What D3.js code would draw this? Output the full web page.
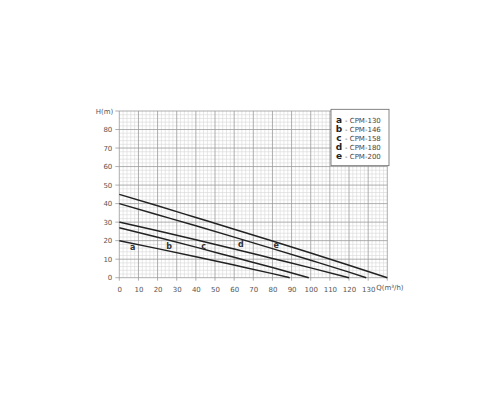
<!DOCTYPE html>
<html>
<head>
<meta charset="utf-8">
<script src="https://d3js.org/d3.v7.min.js"></script>
<style>
  body { margin: 0; background: #fff; }
  text { font-family: "DejaVu Sans", Verdana, sans-serif; }
</style>
</head>
<body>
<div id="chart"></div>
<script>
// data: flow Q (m3/h) vs head H (m)
const qA = [0, 20, 40, 60, 80, 89];
const hA = [20, 15.7, 11.3, 6.8, 2.2, 0];
const qB = [0, 20, 40, 60, 80, 99];
const hB = [27, 21.8, 16.5, 11.0, 5.5, 0];
const qC = [0, 20, 40, 60, 80, 100, 120];
const hC = [30, 25.3, 20.5, 15.5, 10.4, 5.3, 0];
const qD = [0, 20, 40, 60, 80, 100, 120, 129];
const hD = [40, 34.0, 28.0, 21.9, 15.7, 9.4, 3.0, 0];
const qE = [0, 20, 40, 60, 80, 100, 120, 140];
const hE = [45, 38.8, 32.5, 26.2, 19.8, 13.3, 6.7, 0];

const letters = ['a', 'b', 'c', 'd', 'e'];
const models = ['CPM-130', 'CPM-146', 'CPM-158', 'CPM-180', 'CPM-200'];
// where the curve letters sit (Q, H)
const labelQ = [7, 26, 44, 63.5, 82];
const labelH = [16.5, 17, 17, 18.3, 17.8];

const xTicks = [0, 10, 20, 30, 40, 50, 60, 70, 80, 90, 100, 110, 120, 130];
const yTicks = [0, 10, 20, 30, 40, 50, 60, 70, 80];

const series = [[qA, hA], [qB, hB], [qC, hC], [qD, hD], [qE, hE]];

const width = 500, height = 400;
const x0 = 119.3, x1 = 387.3, y0 = 277.7, y1 = 111;

const svg = d3.select("#chart").append("svg")
  .attr("width", width).attr("height", height);

const x = d3.scaleLinear().domain([0, 140]).range([x0, x1]);
const y = d3.scaleLinear().domain([0, 90]).range([y0, y1]);

// minor grid
svg.append("g").selectAll("line")
  .data(d3.range(0, 141, 2).filter(v => v % 10 !== 0))
  .join("line")
  .attr("x1", d => x(d)).attr("x2", d => x(d))
  .attr("y1", y0).attr("y2", y1)
  .attr("stroke", "#d6d6d6").attr("stroke-width", 0.6);
svg.append("g").selectAll("line")
  .data(d3.range(0, 91, 2).filter(v => v % 10 !== 0))
  .join("line")
  .attr("y1", d => y(d)).attr("y2", d => y(d))
  .attr("x1", x0).attr("x2", x1)
  .attr("stroke", "#d6d6d6").attr("stroke-width", 0.6);

// major grid
svg.append("g").selectAll("line")
  .data(d3.range(0, 141, 10))
  .join("line")
  .attr("x1", d => x(d)).attr("x2", d => x(d))
  .attr("y1", y0 + 3).attr("y2", y1)
  .attr("stroke", "#9a9a9a").attr("stroke-width", 0.8);
svg.append("g").selectAll("line")
  .data(d3.range(0, 91, 10))
  .join("line")
  .attr("y1", d => y(d)).attr("y2", d => y(d))
  .attr("x1", x0 - 4).attr("x2", x1)
  .attr("stroke", "#9a9a9a").attr("stroke-width", 0.8);

// axes (labels only)
const xAxis = svg.append("g")
  .attr("transform", `translate(0,${y0})`)
  .call(d3.axisBottom(x).tickValues(xTicks).tickSize(0).tickPadding(9));
const yAxis = svg.append("g")
  .attr("transform", `translate(${x0},0)`)
  .call(d3.axisLeft(y).tickValues(yTicks).tickSize(0).tickPadding(7));
[xAxis, yAxis].forEach(a => {
  a.select(".domain").remove();
  a.selectAll("text").attr("font-size", 7).attr("fill", "#555")
    .style("font-family", "DejaVu Sans, sans-serif");
});

svg.append("text").attr("x", x0 - 6).attr("y", y1 + 2.5)
  .attr("text-anchor", "end").attr("font-size", 7).attr("fill", "#555")
  .text("H(m)");
svg.append("text").attr("x", x(130) + 8).attr("y", y0 + 12)
  .attr("font-size", 7).attr("fill", "#555")
  .text("Q(m³/h)");

// curves
const line = d3.line().x(d => x(d[0])).y(d => y(d[1])).curve(d3.curveMonotoneX);
svg.append("g").selectAll("path")
  .data(series)
  .join("path")
  .attr("d", s => line(s[0].map((q, i) => [q, s[1][i]])))
  .attr("fill", "none").attr("stroke", "#222").attr("stroke-width", 1.5);

// curve letters
svg.append("g").selectAll("text")
  .data(letters)
  .join("text")
  .attr("x", (d, i) => x(labelQ[i])).attr("y", (d, i) => y(labelH[i]))
  .attr("text-anchor", "middle").attr("dy", "0.35em")
  .attr("font-size", 8).attr("font-weight", "bold").attr("fill", "#333")
  .text(d => d);

// legend
const lg = svg.append("g");
lg.append("rect").attr("x", 331).attr("y", 109.3).attr("width", 58).attr("height", 56.4)
  .attr("fill", "#fff").attr("stroke", "#666").attr("stroke-width", 0.8);
const rows = lg.selectAll("g").data(letters).join("g")
  .attr("transform", (d, i) => `translate(0,${120.3 + i * 9})`);
rows.append("text").attr("x", 339).attr("dy", "0.35em")
  .attr("text-anchor", "middle")
  .attr("font-size", 9).attr("font-weight", "bold").attr("fill", "#222")
  .text(d => d);
rows.append("text").attr("x", 345).attr("dy", "0.35em")
  .attr("font-size", 7).attr("fill", "#444")
  .text((d, i) => "- " + models[i]);
</script>
</body>
</html>
